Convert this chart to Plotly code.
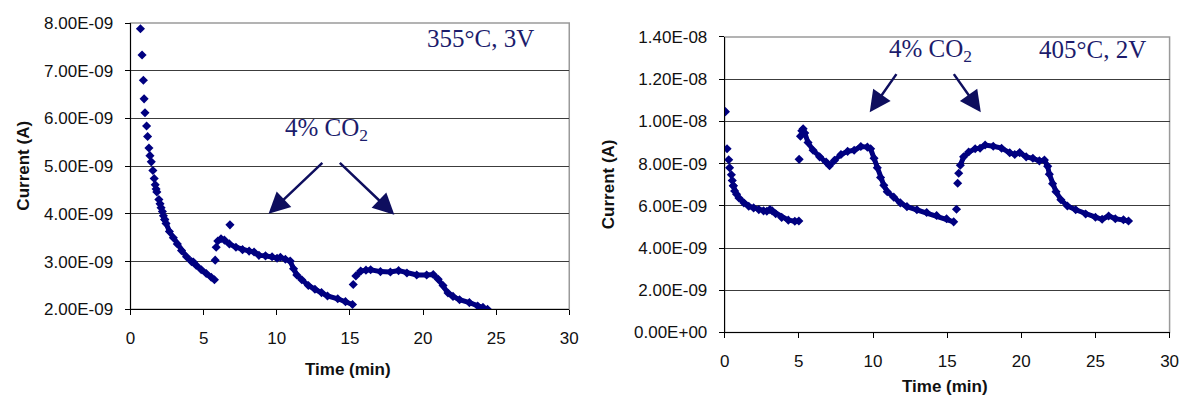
import numpy as np
import plotly.graph_objects as go

NAVY = "#000080"
TEXT_NAVY = "#1c1c6c"
ARROW_NAVY = "#0e0e5e"

# ---------------- 355 °C, 3 V : time (min), current (nA) ----------------
# isolated readings (first decay, gas switching transients)
t355_pts = [0.68, 0.79, 0.88, 0.93, 0.99, 1.10, 1.17, 1.26, 1.33, 1.42, 1.53,
            1.62, 1.69, 1.75, 1.80, 1.94, 2.02, 2.09, 2.18, 2.25, 2.34,
            5.79, 5.86, 6.80, 15.23]
i355_pts = [7.88, 7.33, 6.80, 6.41, 6.12, 5.84, 5.62, 5.38, 5.22, 5.09, 4.91,
            4.74, 4.61, 4.52, 4.46, 4.30, 4.21, 4.13, 4.05, 3.96, 3.88,
            3.03, 3.30, 3.77, 2.52]
# continuous stretches
t355_base = [2.34, 2.43, 2.66, 2.93, 3.20, 3.49, 3.83, 4.17, 4.30, 4.50, 4.84,
             5.18, 5.52, 5.74]
i355_base = [3.88, 3.80, 3.63, 3.50, 3.37, 3.23, 3.10, 3.00, 2.99, 2.92, 2.83,
             2.75, 2.67, 2.62]
t355_pulse1 = [5.97, 6.19, 6.42, 6.76, 7.21, 7.66, 8.11, 8.45, 8.78, 9.23, 9.68,
               10.02, 10.25, 10.59, 10.92, 11.15, 11.37, 11.71, 12.16, 12.61,
               13.06, 13.47, 14.17, 14.70, 15.18]
i355_pulse1 = [3.43, 3.48, 3.45, 3.37, 3.30, 3.25, 3.22, 3.20, 3.13, 3.12, 3.10,
               3.07, 3.09, 3.05, 3.01, 2.85, 2.72, 2.62, 2.50, 2.42,
               2.35, 2.28, 2.22, 2.16, 2.10]
t355_pulse2 = [15.41, 15.74, 16.10, 16.42, 17.09, 17.77, 18.33, 18.90, 19.57,
               20.25, 20.70, 21.04, 21.37, 21.71, 22.05, 22.50, 23.17, 23.74,
               24.10, 24.41]
i355_pulse2 = [2.70, 2.80, 2.82, 2.83, 2.79, 2.78, 2.81, 2.76, 2.72,
               2.72, 2.73, 2.63, 2.50, 2.34, 2.27, 2.20, 2.14, 2.07,
               2.04, 2.00]

# ---------------- 405 °C, 2 V : time (min), current (nA) ----------------
t405_pts = [0.05, 0.16, 0.27, 0.33, 0.45, 0.51, 0.58,
            5.02, 5.11, 15.63, 15.71, 15.78]
i405_pts = [10.46, 8.70, 8.18, 7.80, 7.47, 7.20, 6.95,
            8.20, 9.30, 5.84, 7.07, 7.54]
t405_base = [0.58, 0.67, 0.80, 0.96, 1.29, 1.62, 1.95, 2.30, 2.62, 2.84, 3.05,
             3.20, 3.44, 3.84, 4.29, 4.73, 5.00]
i405_base = [6.95, 6.70, 6.55, 6.37, 6.14, 5.98, 5.90, 5.82, 5.76, 5.74, 5.82,
             5.76, 5.62, 5.45, 5.32, 5.27, 5.28]
t405_pulse1 = [5.20, 5.29, 5.40, 5.62, 5.96, 6.40, 6.84, 7.07, 7.40, 7.84, 8.29,
               8.73, 9.18, 9.62, 9.84, 10.07, 10.29, 10.51, 10.73, 10.96, 11.40,
               11.84, 12.29, 12.96, 13.62, 14.29, 14.96, 15.44]
i405_pulse1 = [9.55, 9.65, 9.45, 9.00, 8.63, 8.32, 8.07, 7.90, 8.15, 8.43, 8.58,
               8.63, 8.81, 8.78, 8.70, 8.25, 7.80, 7.34, 6.97, 6.67, 6.41,
               6.14, 5.96, 5.81, 5.68, 5.54, 5.39, 5.24]
t405_pulse2 = [15.89, 16.11, 16.45, 16.89, 17.22, 17.56, 18.11, 18.67, 19.22,
               19.56, 19.89, 20.33, 20.78, 21.22, 21.56, 21.78, 21.89, 22.11,
               22.34, 22.67, 23.11, 23.67, 24.34, 25.00, 25.45, 25.89, 26.34,
               26.89, 27.23]
i405_pulse2 = [7.92, 8.32, 8.55, 8.70, 8.73, 8.88, 8.82, 8.73, 8.51,
               8.43, 8.52, 8.32, 8.25, 8.13, 8.17, 7.87, 7.50, 7.05,
               6.67, 6.29, 5.99, 5.81, 5.61, 5.46, 5.36, 5.52, 5.39,
               5.34, 5.28]

# axis ticks
x_ticks = [0, 5, 10, 15, 20, 25, 30]
y355_ticks = [2e-9, 3e-9, 4e-9, 5e-9, 6e-9, 7e-9, 8e-9]
y355_labels = ["2.00E-09", "3.00E-09", "4.00E-09", "5.00E-09", "6.00E-09",
               "7.00E-09", "8.00E-09"]
y405_ticks = [0, 2e-9, 4e-9, 6e-9, 8e-9, 1.0e-8, 1.2e-8, 1.4e-8]
y405_labels = ["0.00E+00", "2.00E-09", "4.00E-09", "6.00E-09", "8.00E-09",
               "1.00E-08", "1.20E-08", "1.40E-08"]

NA = 1e-9
W, H = 1186, 407

fig = go.Figure()


def add_run(xa, ya, pts, stretches):
    for t, i in stretches:
        fig.add_trace(go.Scatter(
            x=t, y=np.array(i) * NA, mode="lines+markers",
            line=dict(color=NAVY, width=5),
            marker=dict(symbol="diamond", size=7, color=NAVY),
            xaxis=xa, yaxis=ya, showlegend=False, hoverinfo="skip"))
    fig.add_trace(go.Scatter(
        x=pts[0], y=np.array(pts[1]) * NA, mode="markers",
        marker=dict(symbol="diamond", size=7, color=NAVY),
        xaxis=xa, yaxis=ya, showlegend=False, hoverinfo="skip"))


add_run("x", "y", (t355_pts, i355_pts),
        [(t355_base, i355_base), (t355_pulse1, i355_pulse1),
         (t355_pulse2, i355_pulse2)])
add_run("x2", "y2", (t405_pts, i405_pts),
        [(t405_base, i405_base), (t405_pulse1, i405_pulse1),
         (t405_pulse2, i405_pulse2)])

tick_font = dict(family="Liberation Sans, Arial", size=17, color="#111")


def xaxis_cfg(domain, anchor):
    return dict(domain=domain, anchor=anchor, range=[0, 30], tickvals=x_ticks,
                ticks="outside", ticklen=5, tickcolor="black",
                showline=True, linecolor="black", linewidth=1,
                showgrid=False, zeroline=False, tickfont=tick_font,
                ticklabelstandoff=8, fixedrange=True)


def yaxis_cfg(domain, anchor, rng, vals, labels):
    return dict(domain=domain, anchor=anchor, range=rng, tickvals=vals,
                ticktext=labels, ticks="outside", ticklen=5,
                tickcolor="black", showline=True, linecolor="black",
                linewidth=1, showgrid=True, gridcolor="#3c3c3c", gridwidth=1,
                zeroline=False, tickfont=tick_font, ticklabelstandoff=8,
                fixedrange=True)


fig.update_layout(
    width=W, height=H, margin=dict(l=0, r=0, t=0, b=0),
    paper_bgcolor="white", plot_bgcolor="white",
    xaxis=xaxis_cfg([127 / W, 571 / W], "y"),
    yaxis=yaxis_cfg([1 - 315 / H, 1 - 14.7 / H], "x", [2e-9, 8e-9],
                    y355_ticks, y355_labels),
    xaxis2=xaxis_cfg([728.3 / W, 1178.5 / W], "y2"),
    yaxis2=yaxis_cfg([1 - 339.3 / H, 1 - 29.3 / H], "x2", [0, 1.4e-8],
                     y405_ticks, y405_labels),
)

# grey frame around each plot area
for xr, yr in (("x", "y"), ("x2", "y2")):
    fig.add_shape(type="rect", xref=f"{xr} domain", yref=f"{yr} domain",
                  x0=0, x1=1, y0=0, y1=1, layer="below",
                  line=dict(color="#9a9a9a", width=1.5))

serif = dict(family="Liberation Serif, Times New Roman", size=25,
             color=TEXT_NAVY)
title_font = dict(family="Liberation Sans, Arial", size=17, color="#111")

ann = []
# condition labels
ann.append(dict(x=23.92, y=7.68e-9, xref="x", yref="y", text="355°C, 3V",
                showarrow=False, font=serif))
ann.append(dict(x=24.78, y=13.40e-9, xref="x2", yref="y2", text="405°C, 2V",
                showarrow=False, font=serif))
ann.append(dict(x=13.4, y=5.76e-9, xref="x", yref="y",
                text="4% CO<sub>2</sub>", showarrow=False, font=serif))
ann.append(dict(x=13.88, y=13.34e-9, xref="x2", yref="y2",
                text="4% CO<sub>2</sub>", showarrow=False, font=serif))

# arrows towards the CO2 pulses: (tail x, tail y, tip x, tip y)
arrows = [("x", "y", 13.22, 5.10e-9, 9.44, 4.0e-9),
          ("x", "y", 14.21, 5.10e-9, 18.04, 3.98e-9),
          ("x2", "y2", 11.65, 12.31e-9, 9.78, 10.43e-9),
          ("x2", "y2", 15.38, 12.31e-9, 17.27, 10.43e-9)]
for xr, yr, tx, ty, hx, hy in arrows:
    ann.append(dict(x=hx, y=hy, ax=tx, ay=ty, xref=xr, yref=yr, axref=xr,
                    ayref=yr, text="", showarrow=True, arrowhead=2,
                    arrowsize=1.7, arrowwidth=2.5, arrowcolor=ARROW_NAVY,
                    standoff=0, startstandoff=0))

# axis titles
for x_px, y_px, txt, angle in ((18.5, 164, "<b>Current (A)</b>", -90),
                               (611, 184, "<b>Current (A)</b>", -90),
                               (347, 378, "<b>Time (min)</b>", 0),
                               (951, 396, "<b>Time (min)</b>", 0)):
    ann.append(dict(x=x_px / W, y=1 - y_px / H, xref="paper", yref="paper",
                    xanchor="center", yanchor="middle", text=txt,
                    textangle=angle, showarrow=False, font=title_font))

fig.update_layout(annotations=ann)

fig.write_html("out.html")
